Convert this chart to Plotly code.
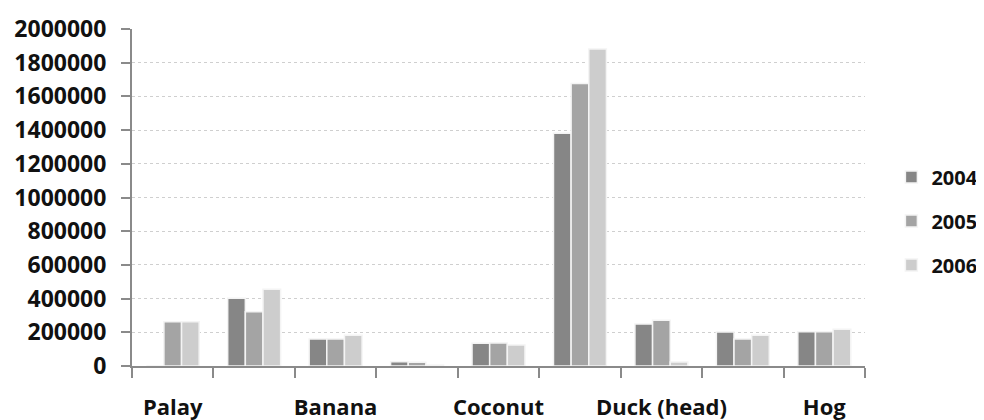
import plotly.graph_objects as go

categories = ["Palay", "Corn", "Banana", "Mango", "Coconut", "Chicken (head)", "Duck (head)", "Carabao", "Hog"]
shown_labels = ["Palay", "", "Banana", "", "Coconut", "", "Duck (head)", "", "Hog"]
years = ["2004", "2005", "2006"]
v2004 = [0, 402000, 160000, 25000, 135000, 1381000, 249000, 202000, 204000]
v2005 = [263000, 322000, 160000, 22000, 137000, 1677000, 271000, 160000, 204000]
v2006 = [263000, 455000, 182000, 5000, 125000, 1881000, 24000, 182000, 218000]
colors = ["#868686", "#a4a4a4", "#cdcdcd"]
y_ticks = [0, 200000, 400000, 600000, 800000, 1000000, 1200000, 1400000, 1600000, 1800000, 2000000]

fig = go.Figure()
for name, vals, col in zip(years, [v2004, v2005, v2006], colors):
    fig.add_trace(go.Bar(x=categories, y=vals, name=name, legendgroup=name,
                         marker=dict(color=col, line=dict(color="#f4f4f4", width=1.5))))

font_family = "Open Sans"
# the page body adds an 8px offset, so the figure is 8px smaller on each side
fig.update_layout(
    width=976, height=412,
    margin=dict(l=124, r=119, t=21, b=54, autoexpand=False),
    paper_bgcolor="white", plot_bgcolor="white",
    barmode="group", bargap=0.35, bargroupgap=0.0,
    font=dict(family=font_family, color="#111111"),
    legend=dict(x=1.036, y=0.43, xanchor="left", yanchor="middle",
                font=dict(family=font_family, size=20, weight="bold"),
                itemwidth=30, tracegroupgap=15, bgcolor="rgba(0,0,0,0)"),
    showlegend=True,
)
fig.update_yaxes(range=[0, 2000000], tickmode="array", tickvals=y_ticks,
                 ticktext=[str(v) for v in y_ticks], automargin=False,
                 showgrid=True, gridcolor="#cfcfcf", griddash="dot", gridwidth=1,
                 showline=True, linecolor="#8a8a8a", linewidth=2,
                 ticks="outside", ticklen=9, tickwidth=2, tickcolor="#8a8a8a",
                 tickfont=dict(family=font_family, size=23, weight="bold", color="#111111"),
                 zeroline=False, ticklabelstandoff=10)
fig.update_xaxes(tickmode="array", tickvals=categories, ticktext=shown_labels, automargin=False,
                 tickson="boundaries", ticks="outside", ticklen=10, tickwidth=2,
                 tickcolor="#8a8a8a", showline=True, linecolor="#8a8a8a", linewidth=2,
                 showgrid=False, tickangle=0,
                 tickfont=dict(family=font_family, size=22, weight="bold", color="#111111"),
                 ticklabelstandoff=21)

fig.write_html("out.html")
